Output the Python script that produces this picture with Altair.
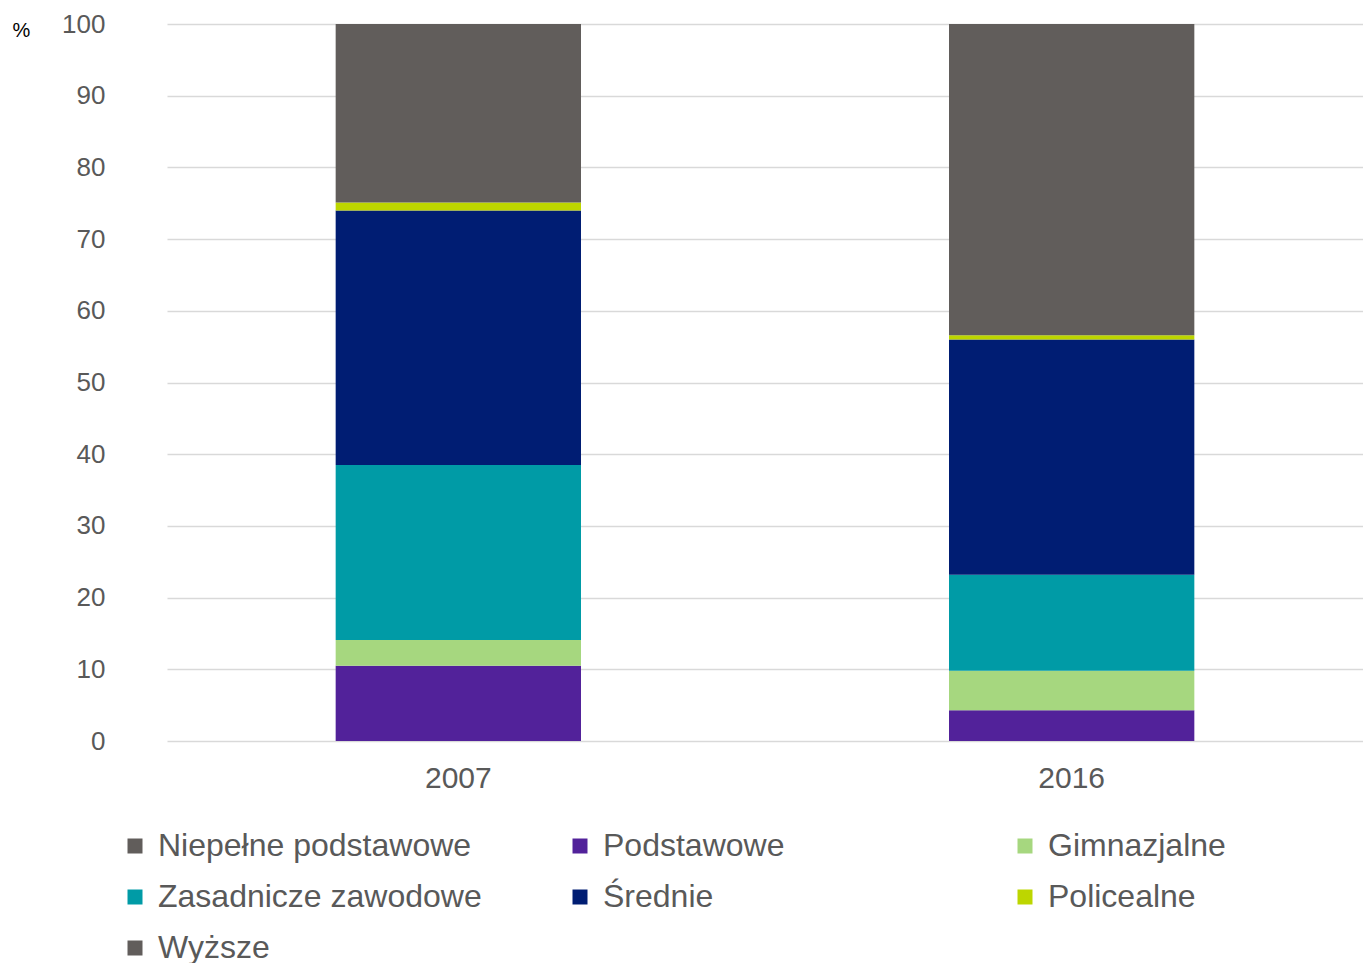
import altair as alt
import pandas as pd

years = ["2007", "2016"]
categories = ["Niepełne podstawowe", "Podstawowe", "Gimnazjalne",
              "Zasadnicze zawodowe", "Średnie", "Policealne", "Wyższe"]
colors = ["#615d5b", "#52229a", "#a6d77f", "#009ba6", "#001d73", "#bdd600", "#615d5b"]
values_2007 = [0.0, 10.5, 3.6, 24.4, 35.5, 1.1, 24.9]
values_2016 = [0.0, 4.3, 5.5, 13.4, 32.8, 0.6, 43.4]

rows = []
for year, vals in zip(years, [values_2007, values_2016]):
    for i, (c, v) in enumerate(zip(categories, vals)):
        rows.append({"year": year, "cat": c, "value": v, "order": i})
df = pd.DataFrame(rows)

# the legend grid lays entries out so that this domain order reads row by row
# in the natural category order
legend_idx = [0, 3, 5, 1, 4, 6, 2]
domain = [categories[i] for i in legend_idx]
rng = [colors[i] for i in legend_idx]

font = "Liberation Sans"
label_color = "#595959"

chart = alt.Chart(df).mark_bar().encode(
    x=alt.X("year:N", title=None, sort=years,
            scale=alt.Scale(paddingInner=0.6, paddingOuter=0.275),
            axis=alt.Axis(labelAngle=0, labelFontSize=30, labelColor=label_color,
                          labelFont=font, ticks=False, domain=False, labelPadding=22)),
    y=alt.Y("value:Q", stack="zero",
            scale=alt.Scale(domain=[0, 100], nice=False),
            axis=alt.Axis(values=list(range(0, 101, 10)), title="%", titleAngle=0,
                          titleAlign="left", titleBaseline="middle", titleX=-155, titleY=6,
                          titleFontSize=20, titleFontWeight="normal", titleColor="#000000",
                          titleFont=font, labelFontSize=26, labelColor=label_color,
                          labelFont=font, ticks=False, domain=False, labelPadding=62,
                          gridColor="#d9d9d9", gridWidth=1.5)),
    color=alt.Color("cat:N",
                    scale=alt.Scale(domain=domain, range=rng),
                    legend=alt.Legend(title=None, orient="none", legendX=-48, legendY=806,
                                      columns=3, gridAlign="all", columnPadding=82,
                                      rowPadding=19, symbolType="square", symbolSize=225,
                                      symbolStrokeWidth=0, labelOffset=7,
                                      labelFontSize=32, labelColor=label_color,
                                      labelFont=font, labelLimit=400)),
    order=alt.Order("order:Q", sort="ascending"),
).properties(
    width=1196, height=717, autosize="none",
    padding={"left": 159, "top": 16, "right": 0, "bottom": 222},
).configure_view(stroke=None)

chart.save("out.html", embed_options={"renderer": "svg", "actions": False})
